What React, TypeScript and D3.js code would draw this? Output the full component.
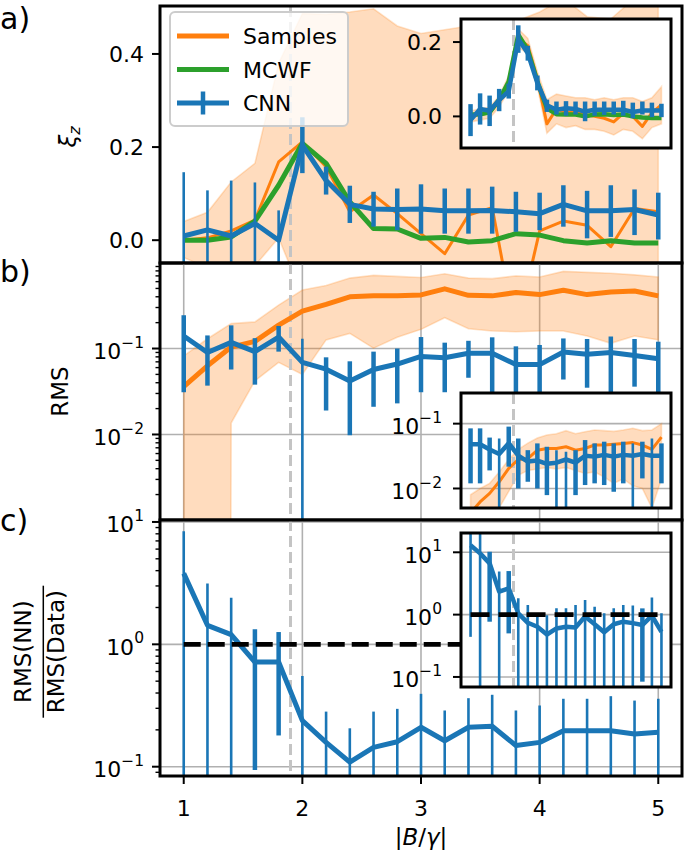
import React from "react";
import * as d3 from "d3";

// ---------------- data ----------------
const XS = [1.0, 1.2, 1.4, 1.6, 1.8, 2.0, 2.2, 2.4, 2.6, 2.8, 3.0, 3.2, 3.4, 3.6, 3.8, 4.0, 4.2, 4.4, 4.6, 4.8, 5.0];
const X_TICKS = [1, 2, 3, 4, 5];
const CRIT_X = 1.9;
const LEGEND_LABELS = ["Samples", "MCWF", "CNN"];

// panel a (xi_z)
const A_SAMPLES = [0.0, 0.005, 0.02, 0.043, 0.168, 0.211, 0.158, 0.061, 0.097, 0.057, 0.014, -0.029, 0.054, 0.07, -0.2, 0.02, 0.041, 0.032, -0.014, 0.068, 0.061];
const A_BAND_HI = [0.04, 0.06, 0.125, 0.165, 0.38, 0.487, 0.485, 0.49, 0.497, 0.46, 0.444, 0.452, 0.46, 0.47, 0.47, 0.49, 0.52, 0.48, 0.475, 0.52, 0.52];
const A_BAND_LO = [-0.037, -0.06, -0.07, -0.055, 0.005, -0.12, -0.2, -0.3, -0.25, -0.3, -0.35, -0.4, -0.3, -0.3, -0.6, -0.35, -0.3, -0.3, -0.35, -0.3, -0.3];
const A_MCWF = [0.0, 0.0, 0.007, 0.041, 0.118, 0.208, 0.165, 0.082, 0.025, 0.024, 0.004, 0.006, -0.004, -0.001, 0.014, 0.011, -0.001, -0.006, -0.001, -0.006, -0.006];
const A_CNN = [0.009, 0.022, 0.009, 0.036, 0.0, 0.204, 0.128, 0.077, 0.067, 0.066, 0.067, 0.063, 0.063, 0.064, 0.061, 0.057, 0.077, 0.063, 0.063, 0.066, 0.054];
const A_CNN_HI = [0.146, 0.107, 0.128, 0.124, 0.064, 0.264, 0.158, 0.117, 0.104, 0.111, 0.12, 0.111, 0.111, 0.115, 0.104, 0.102, 0.118, 0.106, 0.118, 0.109, 0.102];
const A_CNN_LO = [-0.128, -0.063, -0.11, -0.052, -0.064, 0.144, 0.098, 0.037, 0.029, 0.0215, 0.014, 0.014, 0.014, 0.014, 0.018, 0.0215, 0.029, 0.004, 0.007, 0.011, 0.0015];
const A_TICKS = [0, 0.2, 0.4];

// panel b (RMS)
const B_SAMPLES = [0.036, 0.063, 0.104, 0.121, 0.187, 0.272, 0.326, 0.40, 0.41, 0.41, 0.42, 0.495, 0.416, 0.41, 0.448, 0.424, 0.476, 0.424, 0.455, 0.466, 0.41];
const B_BAND_HI = [0.082, 0.13, 0.195, 0.204, 0.32, 0.48, 0.54, 0.66, 0.71, 0.69, 0.67, 0.74, 0.66, 0.65, 0.70, 0.68, 0.79, 0.77, 0.75, 0.72, 0.68];
const B_BAND_LO = [0, 0, 0.0136, 0.042, 0.069, 0.05, 0.126, 0.15, 0.101, 0.135, 0.167, 0.228, 0.17, 0.16, 0.157, 0.16, 0.16, 0.14, 0.115, 0.14, 0.126];
const B_CNN = [0.14, 0.09, 0.118, 0.092, 0.136, 0.069, 0.0575, 0.042, 0.057, 0.066, 0.081, 0.078, 0.088, 0.088, 0.065, 0.065, 0.091, 0.086, 0.09, 0.083, 0.076];
const B_CNN_HI = [0.244, 0.142, 0.186, 0.132, 0.183, 0.13, 0.079, 0.071, 0.092, 0.10, 0.136, 0.117, 0.123, 0.135, 0.106, 0.11, 0.131, 0.129, 0.138, 0.129, 0.12];
const B_CNN_LO = [0.031, 0.037, 0.057, 0.038, 0.092, 0, 0.019, 0.0098, 0.021, 0.023, 0.031, 0.031, 0.0457, 0.03, 0.0277, 0.02, 0.0436, 0.035, 0.03, 0.036, 0.028];

// panel c (RMS ratio)
const C_CNN = [3.8, 1.43, 1.2, 0.717, 0.717, 0.238, 0.158, 0.109, 0.144, 0.16, 0.21, 0.163, 0.21, 0.214, 0.149, 0.158, 0.197, 0.197, 0.197, 0.185, 0.191];
const C_CNN_HI = [8.4, 3.14, 2.4, 1.33, 1.26, 0.55, 0.282, 0.206, 0.282, 0.297, 0.394, 0.288, 0.363, 0.387, 0.288, 0.316, 0.359, 0.359, 0.377, 0.347, 0.359];
const C_CNN_LO = [0, 0, 0, 0.094, 0.18, 0, 0.034, 0.012, 0.006, 0.023, 0.026, 0.038, 0.057, 0.041, 0.01, 0, 0.035, 0.035, 0.017, 0.023, 0.023];
const C_REF = 1;

// inset a
const IA_SAMPLES = [0.0, 0.005, 0.01, 0.04, 0.09, 0.21, 0.19, 0.1, -0.02, 0.02, 0.01, 0.015, 0.005, 0.0, -0.005, -0.015, 0.008, 0.0, -0.027, 0.01, 0.031];
const IA_BAND_HI = [0.015, 0.02, 0.025, 0.055, 0.11, 0.235, 0.21, 0.12, 0.045, 0.06, 0.055, 0.05, 0.05, 0.045, 0.05, 0.045, 0.05, 0.05, 0.04, 0.05, 0.08];
const IA_BAND_LO = [-0.015, -0.01, -0.005, 0.025, 0.07, 0.185, 0.17, 0.08, -0.045, -0.02, -0.03, -0.025, -0.035, -0.035, -0.04, -0.05, -0.035, -0.04, -0.06, -0.03, -0.02];
const IA_MCWF = [0.005, 0.006, 0.011, 0.045, 0.094, 0.22, 0.179, 0.094, 0.022, 0.006, 0.005, 0.005, 0.0, 0.005, 0.006, 0.004, 0.005, 0.0, -0.003, -0.004, -0.004];
const IA_CNN = [-0.01, 0.02, 0.015, 0.044, 0.068, 0.208, 0.17, 0.09, 0.03, 0.018, 0.022, 0.02, 0.013, 0.018, 0.018, 0.018, 0.018, 0.012, 0.016, 0.016, 0.016];
const IA_CNN_HI = [0.033, 0.062, 0.056, 0.074, 0.088, 0.245, 0.19, 0.11, 0.045, 0.04, 0.041, 0.04, 0.04, 0.04, 0.04, 0.04, 0.042, 0.037, 0.04, 0.037, 0.034];
const IA_CNN_LO = [-0.053, -0.022, -0.026, 0.014, 0.048, 0.171, 0.15, 0.07, 0.012, 0.005, 0.002, 0.005, -0.013, 0.002, 0.004, 0.005, 0.002, -0.005, 0.005, -0.002, -0.002];
const IA_TICKS = [0, 0.2];

// inset b
const IB_SAMPLES = [0.0042, 0.0062, 0.0084, 0.0127, 0.0204, 0.028, 0.029, 0.039, 0.0415, 0.0415, 0.044, 0.039, 0.0415, 0.0468, 0.0468, 0.048, 0.0496, 0.051, 0.0468, 0.04, 0.062];
const IB_BAND_HI = [0.008, 0.01, 0.012, 0.018, 0.028, 0.04, 0.05, 0.06, 0.067, 0.07, 0.078, 0.07, 0.075, 0.08, 0.078, 0.076, 0.08, 0.085, 0.078, 0.08, 0.1];
const IB_BAND_LO = [0.001, 0.002, 0.003, 0.005, 0.009, 0.016, 0.019, 0.02, 0.021, 0.02, 0.021, 0.019, 0.017, 0.018, 0.015, 0.012, 0.014, 0.011, 0.01, 0.005, 0.014];
const IB_CNN = [0.048, 0.048, 0.04, 0.034, 0.05, 0.032, 0.026, 0.027, 0.024, 0.025, 0.028, 0.025, 0.032, 0.031, 0.033, 0.031, 0.033, 0.032, 0.034, 0.032, 0.032];
const IB_CNN_HI = [0.0846, 0.0846, 0.061, 0.059, 0.09, 0.059, 0.039, 0.0496, 0.044, 0.039, 0.037, 0.039, 0.0558, 0.0496, 0.0527, 0.0496, 0.0527, 0.0496, 0.0527, 0.059, 0.0496];
const IB_CNN_LO = [0.012, 0.012, 0.019, 0, 0.0217, 0.01, 0.0127, 0.01, 0.0079, 0, 0, 0.0079, 0.0113, 0.012, 0.0113, 0.0089, 0.012, 0.003, 0.0143, 0, 0.012];

// inset c
const IC_CNN = [13, 9.6, 6.65, 2.34, 2.64, 1.05, 0.74, 0.64, 0.48, 0.6, 0.64, 0.62, 0.93, 0.70, 0.52, 0.70, 0.77, 0.73, 0.68, 0.96, 0.53];
const IC_CNN_HI = [21, 19.6, 10.2, 4.9, 5.0, 1.83, 1.43, 1.05, 0.98, 1.26, 1.26, 1.43, 1.71, 1.34, 1.05, 1.26, 1.43, 1.4, 1.26, 1.88, 1.05];
const IC_CNN_LO = [0.44, 0, 0.77, 0, 0.5, 0, 0, 0, 0, 0, 0, 0, 0, 0, 0, 0, 0, 0, 0.084, 0, 0];

// ---------------- style ----------------
const FONT = "DejaVu Sans, sans-serif";
const BLUE = "#1a76b6";
const ORANGE = "#ff7f0e";
const GREEN = "#2ca02c";
const GRID = "#b0b0b0";
const FS = 22;

type YS = { f: (v: number) => number; top: number; bottom: number; log: boolean; scale: any };

function makeY(scale: any, log: boolean): YS {
  const [b, t] = scale.range();
  return { f: (v: number) => (log && v <= 0 ? b + 10000 : scale(v)), top: t, bottom: b, log, scale };
}

function supStr(e: number) {
  return e < 0 ? "\u2212" + (-e) : String(e);
}

function logMajors(scale: any) {
  const [a, b] = scale.domain();
  const out: number[] = [];
  for (let e = Math.ceil(Math.log10(a) - 1e-9); e <= Math.floor(Math.log10(b) + 1e-9); e++) out.push(e);
  return out;
}
function logMinors(scale: any) {
  const [a, b] = scale.domain();
  const out: number[] = [];
  for (let e = Math.floor(Math.log10(a)); e <= Math.ceil(Math.log10(b)); e++) {
    for (let m = 2; m <= 9; m++) {
      const v = m * Math.pow(10, e);
      if (v >= a && v <= b) out.push(v);
    }
  }
  return out;
}

function Line({ xS, y, values, color, width, clip }: any) {
  const d = d3.line<number>().x((_, i) => xS(XS[i])).y((v) => y.f(v))(values) || "";
  return <path d={d} fill="none" stroke={color} strokeWidth={width} strokeLinejoin="round" clipPath={`url(#${clip})`} />;
}

function Band({ xS, y, lo, hi, clip }: any) {
  const d =
    d3
      .area<number>()
      .x((x) => xS(x))
      .y0((_, i) => y.f(lo[i]))
      .y1((_, i) => y.f(hi[i]))(XS) || "";
  return (
    <path d={d} fill={ORANGE} fillOpacity={0.27} stroke={ORANGE} strokeOpacity={0.22} strokeWidth={1.6} clipPath={`url(#${clip})`} />
  );
}

function ErrBars({ xS, y, lo, hi, clip, thick, thin }: any) {
  return (
    <g clipPath={`url(#${clip})`}>
      {XS.map((x, i) => {
        const y1 = y.f(hi[i]);
        const y2 = y.f(lo[i]);
        const w = y2 > y.bottom || y1 < y.top ? thin : thick;
        return <line key={i} x1={xS(x)} x2={xS(x)} y1={y1} y2={y2} stroke={BLUE} strokeWidth={w} />;
      })}
    </g>
  );
}

function VDash({ xS, y, width }: any) {
  return (
    <line x1={xS(CRIT_X)} x2={xS(CRIT_X)} y1={y.top} y2={y.bottom} stroke="#c4c4c4" strokeWidth={width} strokeDasharray="11,5" />
  );
}

function Grid({ xS, y, vertical }: any) {
  const [x0, x1] = xS.range();
  const els: any[] = [];
  if (vertical)
    X_TICKS.forEach((t) =>
      els.push(<line key={"v" + t} x1={xS(t)} x2={xS(t)} y1={y.top} y2={y.bottom} stroke={GRID} strokeWidth={1.6} />)
    );
  logMajors(y.scale).forEach((e) =>
    els.push(<line key={"h" + e} x1={x0} x2={x1} y1={y.f(Math.pow(10, e))} y2={y.f(Math.pow(10, e))} stroke={GRID} strokeWidth={1.6} />)
  );
  return <g>{els}</g>;
}

function LinTicks({ y, x0, ticks, labelX }: any) {
  return (
    <g>
      {ticks.map((t: number) => (
        <g key={t}>
          <line x1={x0 - 8} x2={x0} y1={y.f(t)} y2={y.f(t)} stroke="black" strokeWidth={2} />
          <text x={labelX} y={y.f(t) + 8} textAnchor="end" fontSize={FS} fontFamily={FONT}>
            {d3.format(".1f")(t)}
          </text>
        </g>
      ))}
    </g>
  );
}

function LogTicks({ y, x0, labelX, minor }: any) {
  return (
    <g>
      {minor &&
        logMinors(y.scale).map((v: number, i: number) => (
          <line key={"m" + i} x1={x0 - 4.5} x2={x0} y1={y.f(v)} y2={y.f(v)} stroke="black" strokeWidth={1.4} />
        ))}
      {logMajors(y.scale).map((e: number) => {
        const py = y.f(Math.pow(10, e));
        return (
          <g key={e}>
            <line x1={x0 - 8} x2={x0} y1={py} y2={py} stroke="black" strokeWidth={2} />
            <text x={labelX} y={py + 10.5} textAnchor="end" fontSize={FS} fontFamily={FONT}>
              10
              <tspan dy={-11.4} fontSize={15.5}>
                {supStr(e)}
              </tspan>
            </text>
          </g>
        );
      })}
    </g>
  );
}

function ClipRect({ id, xS, y }: any) {
  const [x0, x1] = xS.range();
  return (
    <clipPath id={id}>
      <rect x={x0} y={y.top} width={x1 - x0} height={y.bottom - y.top} />
    </clipPath>
  );
}

function Frame({ xS, y }: any) {
  const [x0, x1] = xS.range();
  return <rect x={x0} y={y.top} width={x1 - x0} height={y.bottom - y.top} fill="none" stroke="black" strokeWidth={3} />;
}

function HRef({ xS, y, clip, width, dash }: any) {
  return (
    <line
      x1={xS(XS[0])}
      x2={xS(XS[XS.length - 1])}
      y1={y.f(C_REF)}
      y2={y.f(C_REF)}
      stroke="black"
      strokeWidth={width}
      strokeDasharray={dash}
      clipPath={`url(#${clip})`}
    />
  );
}

export default function App() {
  const xM = d3.scaleLinear().domain([0.8, 5.2]).range([160, 682]);
  const xI = d3.scaleLinear().domain([0.8, 5.2]).range([461, 671]);
  const yA = makeY(d3.scaleLinear().domain([-0.049, 0.503]).range([263, 6]), false);
  const yB = makeY(d3.scaleLog().domain([Math.pow(10, -2.995), Math.pow(10, -0.005)]).range([520, 263]), true);
  const yC = makeY(d3.scaleLog().domain([Math.pow(10, -1.076), Math.pow(10, 1.016)]).range([776, 520]), true);
  const yIA = makeY(d3.scaleLinear().domain([-0.085, 0.262]).range([148, 19]), false);
  const yIB = makeY(d3.scaleLog().domain([0.005, 0.297]).range([508, 393]), true);
  const yIC = makeY(d3.scaleLog().domain([0.069, 20.4]).range([687, 533]), true);

  const legendRows = [
    { label: LEGEND_LABELS[0], color: ORANGE, err: false },
    { label: LEGEND_LABELS[1], color: GREEN, err: false },
    { label: LEGEND_LABELS[2], color: BLUE, err: true },
  ];

  return (
    <svg width={685} height={854} style={{ position: "absolute", left: 0, top: 0, background: "white" }} fontFamily={FONT}>
      <defs>
        <ClipRect id="cA" xS={xM} y={yA} />
        <ClipRect id="cB" xS={xM} y={yB} />
        <ClipRect id="cC" xS={xM} y={yC} />
        <ClipRect id="cIA" xS={xI} y={yIA} />
        <ClipRect id="cIB" xS={xI} y={yIB} />
        <ClipRect id="cIC" xS={xI} y={yIC} />
      </defs>
      <rect x={0} y={0} width={685} height={854} fill="white" />

      {/* ---------- panel a ---------- */}
      <g>
        <Band xS={xM} y={yA} lo={A_BAND_LO} hi={A_BAND_HI} clip="cA" />
        <VDash xS={xM} y={yA} width={3} />
        <Line xS={xM} y={yA} values={A_SAMPLES} color={ORANGE} width={3} clip="cA" />
        <Line xS={xM} y={yA} values={A_MCWF} color={GREEN} width={5} clip="cA" />
        <Line xS={xM} y={yA} values={A_CNN} color={BLUE} width={5} clip="cA" />
        <ErrBars xS={xM} y={yA} lo={A_CNN_LO} hi={A_CNN_HI} clip="cA" thick={4.5} thin={2.6} />
        <Frame xS={xM} y={yA} />
        <LinTicks y={yA} x0={160} ticks={A_TICKS} labelX={144} />
      </g>

      {/* legend */}
      <g>
        <rect x={170} y={12} width={178} height={114} rx={5} fill="white" fillOpacity={0.8} stroke="#cccccc" strokeWidth={2} />
        {legendRows.map((r, i) => {
          const cy = 36 + i * 33.5;
          return (
            <g key={r.label}>
              <line x1={177} x2={229} y1={cy} y2={cy} stroke={r.color} strokeWidth={4.8} />
              {r.err && <line x1={203} x2={203} y1={cy - 11.5} y2={cy + 11.5} stroke={r.color} strokeWidth={4.5} />}
              <text x={243} y={cy + 8} fontSize={FS} fontFamily={FONT}>
                {r.label}
              </text>
            </g>
          );
        })}
      </g>

      {/* inset a */}
      <g>
        <rect x={461} y={yIA.top} width={210} height={yIA.bottom - yIA.top} fill="white" />
        <Band xS={xI} y={yIA} lo={IA_BAND_LO} hi={IA_BAND_HI} clip="cIA" />
        <VDash xS={xI} y={yIA} width={3} />
        <Line xS={xI} y={yIA} values={IA_SAMPLES} color={ORANGE} width={3} clip="cIA" />
        <Line xS={xI} y={yIA} values={IA_MCWF} color={GREEN} width={4.5} clip="cIA" />
        <Line xS={xI} y={yIA} values={IA_CNN} color={BLUE} width={4.5} clip="cIA" />
        <ErrBars xS={xI} y={yIA} lo={IA_CNN_LO} hi={IA_CNN_HI} clip="cIA" thick={4.5} thin={2.6} />
        <Frame xS={xI} y={yIA} />
        <LinTicks y={yIA} x0={461} ticks={IA_TICKS} labelX={442} />
      </g>

      {/* ---------- panel b ---------- */}
      <g>
        <Grid xS={xM} y={yB} vertical={true} />
        <Band xS={xM} y={yB} lo={B_BAND_LO} hi={B_BAND_HI} clip="cB" />
        <VDash xS={xM} y={yB} width={3} />
        <Line xS={xM} y={yB} values={B_SAMPLES} color={ORANGE} width={5} clip="cB" />
        <Line xS={xM} y={yB} values={B_CNN} color={BLUE} width={5} clip="cB" />
        <ErrBars xS={xM} y={yB} lo={B_CNN_LO} hi={B_CNN_HI} clip="cB" thick={4.5} thin={2.6} />
        <Frame xS={xM} y={yB} />
        <LogTicks y={yB} x0={160} labelX={144} minor={true} />
      </g>

      {/* inset b */}
      <g>
        <rect x={461} y={yIB.top} width={210} height={yIB.bottom - yIB.top} fill="white" />
        <Grid xS={xI} y={yIB} vertical={false} />
        <Band xS={xI} y={yIB} lo={IB_BAND_LO} hi={IB_BAND_HI} clip="cIB" />
        <VDash xS={xI} y={yIB} width={3} />
        <Line xS={xI} y={yIB} values={IB_SAMPLES} color={ORANGE} width={3} clip="cIB" />
        <Line xS={xI} y={yIB} values={IB_CNN} color={BLUE} width={4.5} clip="cIB" />
        <ErrBars xS={xI} y={yIB} lo={IB_CNN_LO} hi={IB_CNN_HI} clip="cIB" thick={4.5} thin={2.6} />
        <Frame xS={xI} y={yIB} />
        <LogTicks y={yIB} x0={461} labelX={442} minor={false} />
      </g>

      {/* ---------- panel c ---------- */}
      <g>
        <Grid xS={xM} y={yC} vertical={true} />
        <VDash xS={xM} y={yC} width={3} />
        <Line xS={xM} y={yC} values={C_CNN} color={BLUE} width={5} clip="cC" />
        <ErrBars xS={xM} y={yC} lo={C_CNN_LO} hi={C_CNN_HI} clip="cC" thick={4.5} thin={2.6} />
        <HRef xS={xM} y={yC} clip="cC" width={4.6} dash="17,7" />
        <Frame xS={xM} y={yC} />
        <LogTicks y={yC} x0={160} labelX={144} minor={true} />
        {X_TICKS.map((t) => (
          <g key={t}>
            <line x1={xM(t)} x2={xM(t)} y1={776} y2={784} stroke="black" strokeWidth={2} />
            <text x={xM(t)} y={816} textAnchor="middle" fontSize={FS} fontFamily={FONT}>
              {t}
            </text>
          </g>
        ))}
      </g>

      {/* inset c */}
      <g>
        <rect x={461} y={yIC.top} width={210} height={yIC.bottom - yIC.top} fill="white" />
        <Grid xS={xI} y={yIC} vertical={false} />
        <VDash xS={xI} y={yIC} width={3} />
        <Line xS={xI} y={yIC} values={IC_CNN} color={BLUE} width={4.5} clip="cIC" />
        <ErrBars xS={xI} y={yIC} lo={IC_CNN_LO} hi={IC_CNN_HI} clip="cIC" thick={4.5} thin={2.6} />
        <HRef xS={xI} y={yIC} clip="cIC" width={4.6} dash="19,9" />
        <Frame xS={xI} y={yIC} />
        <LogTicks y={yIC} x0={461} labelX={442} minor={false} />
      </g>

      {/* axis labels */}
      <text transform="translate(76,137) rotate(-90)" textAnchor="middle" fontSize={23} fontFamily={FONT}>
        <tspan fontStyle="italic">ξ</tspan>
        <tspan fontStyle="italic" fontSize={16} dy={4}>
          z
        </tspan>
      </text>
      <text transform="translate(68,391.5) rotate(-90)" textAnchor="middle" fontSize={23} fontFamily={FONT}>
        RMS
      </text>
      <g transform="translate(43.3,651.7) rotate(-90)">
        <text x={0} y={-12.5} textAnchor="middle" fontSize={23} fontFamily={FONT}>
          RMS(NN)
        </text>
        <line x1={-66} x2={66} y1={0} y2={0} stroke="black" strokeWidth={1.5} />
        <text x={0} y={21} textAnchor="middle" fontSize={23} fontFamily={FONT}>
          RMS(Data)
        </text>
      </g>
      <text x={xM(3)} y={845} textAnchor="middle" fontSize={23} fontFamily={FONT}>
        |<tspan fontStyle="italic">B</tspan>/<tspan fontStyle="italic">γ</tspan>|
      </text>

      {/* panel letters */}
      <text x={0} y={29} fontSize={30} fontFamily={FONT}>a)</text>
      <text x={0} y={282} fontSize={30} fontFamily={FONT}>b)</text>
      <text x={0} y={531} fontSize={30} fontFamily={FONT}>c)</text>
    </svg>
  );
}
